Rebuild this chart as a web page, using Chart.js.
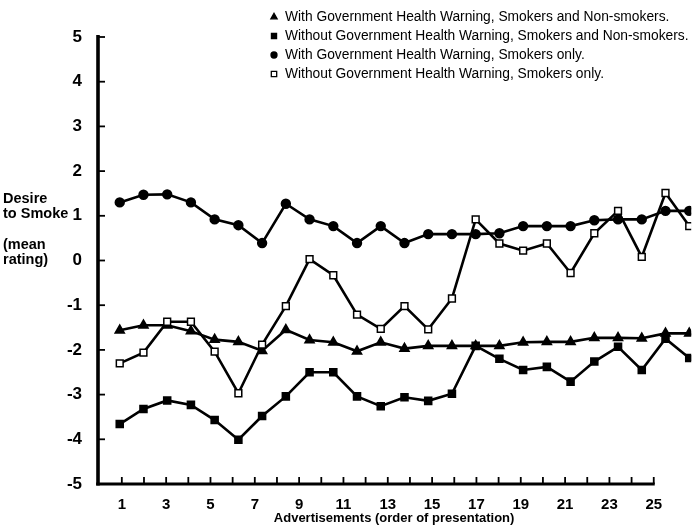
<!DOCTYPE html>
<html>
<head>
<meta charset="utf-8">
<script src="https://cdn.jsdelivr.net/npm/chart.js@4.4.1/dist/chart.umd.min.js"></script>
<style>
  html, body { margin: 0; padding: 0; background: #ffffff; }
  #wrap { width: 698px; height: 526px; }
</style>
</head>
<body>
<div id="wrap"><canvas id="chart" width="698" height="526"></canvas></div>
<script>
// Advertisement order (1..25) and mean "desire to smoke" ratings per group
const advertisements = [1, 2, 3, 4, 5, 6, 7, 8, 9, 10, 11, 12, 13, 14, 15, 16, 17, 18, 19, 20, 21, 22, 23, 24, 25];

const withWarningAll = [-1.56, -1.45, -1.45, -1.58, -1.77, -1.82, -2.02, -1.55, -1.78, -1.83, -2.03, -1.83, -1.97,
  -1.91, -1.91, -1.91, -1.91, -1.83, -1.82, -1.82, -1.73, -1.73, -1.74, -1.63, -1.63];
const withoutWarningAll = [-3.66, -3.32, -3.13, -3.23, -3.57, -4.01, -3.48, -3.04, -2.50, -2.50, -3.04, -3.26, -3.06,
  -3.14, -2.98, -1.91, -2.20, -2.45, -2.38, -2.71, -2.26, -1.93, -2.45, -1.75, -2.18];
const withWarningSmokers = [1.30, 1.47, 1.48, 1.30, 0.92, 0.79, 0.39, 1.27, 0.92, 0.77, 0.39, 0.77, 0.39,
  0.59, 0.59, 0.59, 0.61, 0.77, 0.77, 0.77, 0.90, 0.92, 0.92, 1.11, 1.11];
const withoutWarningSmokers = [-2.30, -2.06, -1.37, -1.37, -2.04, -2.97, -1.88, -1.02, 0.03, -0.33, -1.21, -1.53, -1.02,
  -1.54, -0.85, 0.92, 0.38, 0.22, 0.38, -0.28, 0.61, 1.11, 0.08, 1.51, 0.77];

const seriesLabels = [
  'With Government Health Warning, Smokers and Non-smokers.',
  'Without Government Health Warning, Smokers and Non-smokers.',
  'With Government Health Warning, Smokers only.',
  'Without Government Health Warning, Smokers only.'
];

// Tick values of the printed axes
const xTickValues = [1, 2, 3, 4, 5, 6, 7, 8, 9, 10, 11, 12, 13, 14, 15, 16, 17, 18, 19, 20, 21, 22, 23, 24, 25];
const yTickValues = [-5, -4, -3, -2, -1, 0, 1, 2, 3, 4, 5];

const INK = '#000000';
const FONT = "'Liberation Sans', Arial, Helvetica, sans-serif";

const toPoints = vals => vals.map((v, i) => ({ x: advertisements[i], y: v }));

const baseSeries = {
  xAxisID: 'xData',
  yAxisID: 'y',
  borderColor: INK,
  backgroundColor: INK,
  pointBorderColor: INK,
  borderWidth: 2.6,
  tension: 0,
  fill: false
};

// Axis lines, inward tick marks, side caption and key
const axisDecor = {
  id: 'axisDecor',
  beforeDatasetsDraw(chart) {
    const { ctx, chartArea } = chart;
    const xs = chart.scales.x, ys = chart.scales.y;
    const axisX = chartArea.left + 1;
    const axisY = chartArea.bottom;
    const xEnd = xs.getPixelForValue(xTickValues[xTickValues.length - 1]);
    ctx.save();
    ctx.strokeStyle = INK;
    ctx.lineCap = 'butt';
    // vertical axis
    ctx.lineWidth = 3.6;
    ctx.beginPath();
    ctx.moveTo(axisX, ys.getPixelForValue(yTickValues[yTickValues.length - 1]) - 2);
    ctx.lineTo(axisX, axisY + 1.5);
    ctx.stroke();
    // horizontal axis
    ctx.lineWidth = 3;
    ctx.beginPath();
    ctx.moveTo(axisX - 1.8, axisY);
    ctx.lineTo(xEnd + 1, axisY);
    ctx.stroke();
    // tick marks pointing into the plot
    ctx.lineWidth = 1.8;
    yTickValues.forEach(v => {
      const py = ys.getPixelForValue(v);
      ctx.beginPath();
      ctx.moveTo(axisX, py);
      ctx.lineTo(axisX + 7, py);
      ctx.stroke();
    });
    xTickValues.forEach(v => {
      const px = xs.getPixelForValue(v);
      ctx.beginPath();
      ctx.moveTo(px, axisY);
      ctx.lineTo(px, axisY - 7);
      ctx.stroke();
    });
    ctx.restore();
  },
  afterDraw(chart) {
    const { ctx } = chart;
    const ys = chart.scales.y;
    ctx.save();
    ctx.fillStyle = INK;
    ctx.font = 'bold 14.5px ' + FONT;
    ctx.textAlign = 'left';
    ctx.textBaseline = 'middle';
    const y1 = ys.getPixelForValue(1), y0 = ys.getPixelForValue(0);
    ctx.fillText('Desire', 3, y1 - 17);
    ctx.fillText('to Smoke', 3, y1 - 2);
    ctx.fillText('(mean', 3, y0 - 16);
    ctx.fillText('rating)', 3, y0 - 1);

    // key, one row per series
    ctx.font = '13.8px ' + FONT;
    chart.data.datasets.forEach((ds, i) => {
      const ry = 17 + i * 19;
      ctx.fillStyle = ds.pointBackgroundColor || INK;
      ctx.strokeStyle = INK;
      ctx.lineWidth = 1.3;
      Chart.helpers.drawPoint(ctx, {
        pointStyle: ds.pointStyle,
        radius: ds.legendRadius,
        rotation: 0,
        borderWidth: 1.3
      }, 274, ry);
      ctx.fillStyle = INK;
      ctx.fillText(ds.label, 285, ry + 0.5);
    });
    ctx.restore();
  }
};

new Chart(document.getElementById('chart'), {
  type: 'line',
  data: {
    datasets: [
      Object.assign({}, baseSeries, {
        label: seriesLabels[0], data: toPoints(withWarningAll),
        pointStyle: 'triangle', pointRadius: 4.2, pointBackgroundColor: INK, legendRadius: 3.6, order: 2
      }),
      Object.assign({}, baseSeries, {
        label: seriesLabels[1], data: toPoints(withoutWarningAll),
        pointStyle: 'rect', pointRadius: 4.2, pointBackgroundColor: INK, legendRadius: 3.6, order: 3
      }),
      Object.assign({}, baseSeries, {
        label: seriesLabels[2], data: toPoints(withWarningSmokers),
        pointStyle: 'circle', pointRadius: 3.9, pointBackgroundColor: INK, legendRadius: 3, order: 1
      }),
      Object.assign({}, baseSeries, {
        label: seriesLabels[3], data: toPoints(withoutWarningSmokers),
        pointStyle: 'rect', pointRadius: 4.8, pointBackgroundColor: '#ffffff', pointBorderWidth: 1.5,
        legendRadius: 3.8, order: 0
      })
    ]
  },
  options: {
    responsive: false,
    animation: false,
    devicePixelRatio: 1,
    layout: { padding: { left: 0, right: 0, top: 37, bottom: 0 } },
    plugins: { legend: { display: false }, tooltip: { enabled: false } },
    scales: {
      x: {
        type: 'linear',
        position: 'bottom',
        min: -0.12,
        max: 26.69,
        afterBuildTicks: s => { s.ticks = xTickValues.map(v => ({ value: v })); },
        afterFit: s => { s.height = 42; },
        grid: { display: false, drawTicks: false },
        border: { display: false },
        ticks: {
          autoSkip: false,
          maxRotation: 0,
          padding: 12,
          color: INK,
          font: { family: FONT, size: 15, weight: 'bold' },
          callback: v => (v % 2 === 1 ? String(v) : '')
        },
        title: {
          display: true,
          text: 'Advertisements (order of presentation)',
          color: INK,
          font: { family: FONT, size: 13, weight: 'bold' },
          padding: { top: 0, bottom: 0 }
        }
      },
      xData: { type: 'linear', display: false, min: 0.0417, max: 25.083 },
      y: {
        min: -5,
        max: 5,
        afterBuildTicks: s => { s.ticks = yTickValues.map(v => ({ value: v })); },
        afterFit: s => { s.width = 97; },
        grid: { display: false, drawTicks: false },
        border: { display: false },
        ticks: {
          padding: 15,
          color: INK,
          font: { family: FONT, size: 17, weight: 'bold' }
        }
      }
    }
  },
  plugins: [axisDecor]
});
</script>
</body>
</html>
